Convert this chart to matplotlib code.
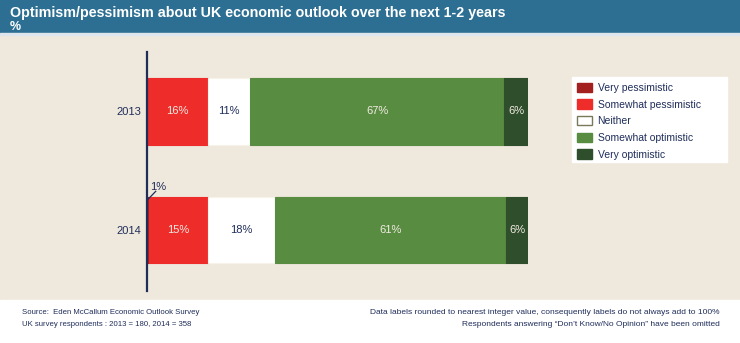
import matplotlib.pyplot as plt
from matplotlib.patches import Rectangle

# data
years = ['2014', '2013']
categories = ['Very pessimistic', 'Somewhat pessimistic', 'Neither',
              'Somewhat optimistic', 'Very optimistic']
values_2014 = [0.6, 15.4, 17.5, 60.7, 5.8]
values_2013 = [0.0, 16.0, 11.0, 66.8, 6.2]
labels_2014 = ['1%', '15%', '18%', '61%', '6%']
labels_2013 = ['', '16%', '11%', '67%', '6%']

colors = ['#A3201F', '#EE2C2A', '#FFFFFF', '#588C41', '#2F4F2C']
text_colors = ['#1F2D5A', '#F3ECE4', '#1F2D5A', '#F3ECE4', '#F3ECE4']
navy = '#1F2D5A'
beige = '#EFE8DC'

W, H = 740, 343
fig = plt.figure(figsize=(W / 100, H / 100), dpi=100, facecolor=beige)
plt.rcParams['font.family'] = ['Liberation Sans', 'DejaVu Sans']

# title bar and footer
fig.patches.append(Rectangle((0, 1 - 33 / H), 1, 33 / H, transform=fig.transFigure,
                             color='#2D6F93', zorder=0))
fig.patches.append(Rectangle((0, 1 - 35 / H), 1, 2 / H, transform=fig.transFigure,
                             color='#DDE6EC', zorder=0))
fig.patches.append(Rectangle((0, 0), 1, 43 / H, transform=fig.transFigure,
                             color='white', zorder=0))
# legend box
fig.patches.append(Rectangle((572 / W, 1 - 162 / H), 155 / W, 85 / H,
                             transform=fig.transFigure, color='white', zorder=0))

fig.text(10 / W, 1 - 13 / H, 'Optimism/pessimism about UK economic outlook over the next 1-2 years',
         color='white', fontsize=10.3, fontweight='bold', va='center', ha='left')
fig.text(10 / W, 1 - 27 / H, '%', color='white', fontsize=9, fontweight='bold',
         va='center', ha='left')

# main axes: x 0..100 maps to pixels 147..528
ax = fig.add_axes([147 / W, 1 - 291 / H, 381 / W, 239 / H])
ax.patch.set_alpha(0)
ax.set_xlim(0, 100)
ax.set_ylim(-0.515, 1.502)

data = [values_2014, values_2013]
labels = [labels_2014, labels_2013]
for yi, (vals, labs) in enumerate(zip(data, labels)):
    left = 0
    for ci, v in enumerate(vals):
        if v > 0:
            edge = '#F7F2EA' if ci == 2 else colors[ci]
            ax.barh(yi, v, left=left, height=0.565, color=colors[ci],
                    edgecolor=edge, linewidth=0.8, zorder=2)
            if ci == 0:
                # small slice: label above the bar with a leader line
                ax.plot([left, left + 2.4], [yi + 0.25, yi + 0.33], color=navy,
                        lw=0.9, zorder=5, solid_capstyle='butt')
                ax.text(left + 3.0, yi + 0.36, labs[ci], color=navy, fontsize=8,
                        ha='center', va='center', zorder=5)
            else:
                ax.text(left + v / 2, yi, labs[ci], color=text_colors[ci],
                        fontsize=8, ha='center', va='center', zorder=3)
        left += v

ax.set_yticks([0, 1])
ax.set_yticklabels(years, color=navy, fontsize=8)
ax.tick_params(axis='y', length=0, pad=4)
ax.set_xticks([])
for s in ['top', 'right', 'bottom']:
    ax.spines[s].set_visible(False)
ax.spines['left'].set_color(navy)
ax.spines['left'].set_linewidth(1.6)
ax.spines['left'].set_zorder(4)

# legend
handles = [Rectangle((0, 0), 1, 1, facecolor=c,
                     edgecolor=('#7A7A5A' if c == '#FFFFFF' else c), linewidth=1.0)
           for c in colors]
leg = fig.legend(handles, categories, loc='upper left', bbox_to_anchor=(572 / W, 1 - 78 / H),
                 frameon=False, fontsize=7.5, handlelength=1.5, handleheight=1.0,
                 handletextpad=0.5, labelspacing=0.62, borderpad=0.45, borderaxespad=0)
for t in leg.get_texts():
    t.set_color(navy)

# footer
fig.text(22 / W, 1 - 312 / H, 'Source:  Eden McCallum Economic Outlook Survey',
         color=navy, fontsize=5.6, ha='left', va='center')
fig.text(22 / W, 1 - 325 / H, 'UK survey respondents : 2013 = 180, 2014 = 358',
         color=navy, fontsize=5.6, ha='left', va='center')
fig.text(720 / W, 1 - 312 / H,
         'Data labels rounded to nearest integer value, consequently labels do not always add to 100%',
         color=navy, fontsize=6.0, ha='right', va='center')
fig.text(720 / W, 1 - 325 / H,
         'Respondents answering \u201cDon\u2019t Know/No Opinion\u201d have been omitted',
         color=navy, fontsize=6.0, ha='right', va='center')

fig.savefig('out.png', dpi=100, facecolor=beige)
